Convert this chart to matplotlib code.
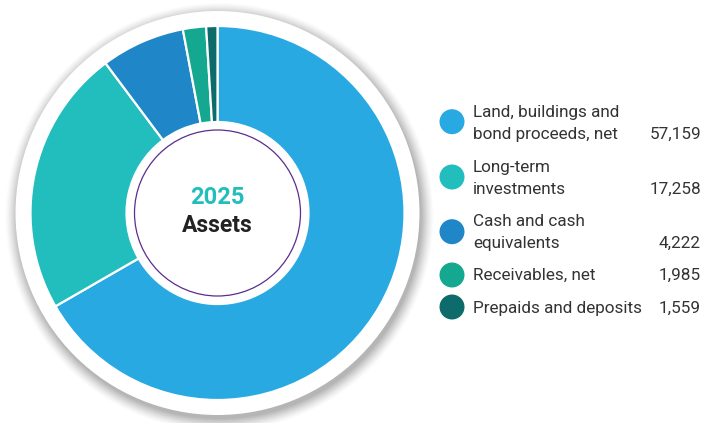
import matplotlib
matplotlib.use("Agg")
import matplotlib.pyplot as plt
from matplotlib.patches import Circle

categories = ["Land, buildings and\nbond proceeds, net", "Long-term\ninvestments",
              "Cash and cash\nequivalents", "Receivables, net", "Prepaids and deposits"]
# values printed in the legend
value_labels = ["57,159", "17,258", "4,222", "1,985", "1,559"]
# wedge sizes as drawn in the reference picture (percent of ring)
wedge_shares = [66.7, 23.1, 7.25, 2.0, 0.97]
colors = ["#29a9e1", "#22bdbd", "#1f86c8", "#13a88f", "#0d6b6b"]
year_label = "2025"
title_label = "Assets"

W, H = 702, 423
fig = plt.figure(figsize=(W / 100, H / 100), dpi=100)
ax = fig.add_axes([0, 0, 1, 1])

def Y(y):
    return H - y

cx, cy = 217.5, Y(213)

# soft shadow
for i, r in enumerate(range(214, 201, -1)):
    ax.add_patch(Circle((cx + 2, cy - 4), r, facecolor="#000000", alpha=0.012 + i * 0.002,
                        edgecolor="none", zorder=0))
ax.add_patch(Circle((cx, cy), 202, facecolor="white", edgecolor="none", zorder=1))

wedges, _ = ax.pie(wedge_shares, colors=colors, startangle=90, counterclock=False,
                   radius=187, center=(cx, cy),
                   wedgeprops=dict(width=187 - 91, edgecolor="white", linewidth=1.6))
for w in wedges:
    w.set_zorder(2)

ax.add_patch(Circle((cx, cy), 83, facecolor="none", edgecolor="#5b2d8e", linewidth=0.9, zorder=3))

ax.text(cx, Y(197), year_label, ha="center", va="center", fontsize=17, fontweight="bold",
        color="#22bdbd", family="Roboto", zorder=4)
ax.text(cx, Y(225), title_label, ha="center", va="center", fontsize=16.5, fontweight="bold",
        color="#222222", family="Roboto", zorder=4)

# legend
circle_y = [121.7, 177, 231.7, 275, 307]
text_y = [(112.7, 134.3), (167.7, 189), (221.7, 243.3), (275.7,), (308.3,)]
for i, cat in enumerate(categories):
    ax.add_patch(Circle((452, Y(circle_y[i])), 12.5, facecolor=colors[i], edgecolor="none", zorder=4))
    lines = cat.split("\n")
    for j, line in enumerate(lines):
        ax.text(473, Y(text_y[i][j]), line, ha="left", va="center", fontsize=12.3,
                color="#333333", family="Roboto", zorder=4)
    ax.text(701, Y(text_y[i][-1]), value_labels[i], ha="right", va="center", fontsize=12.3,
            color="#333333", family="Roboto", zorder=4)

ax.set_xlim(0, W)
ax.set_ylim(0, H)
ax.set_aspect("equal")
ax.axis("off")
fig.savefig("out.png", dpi=100)
